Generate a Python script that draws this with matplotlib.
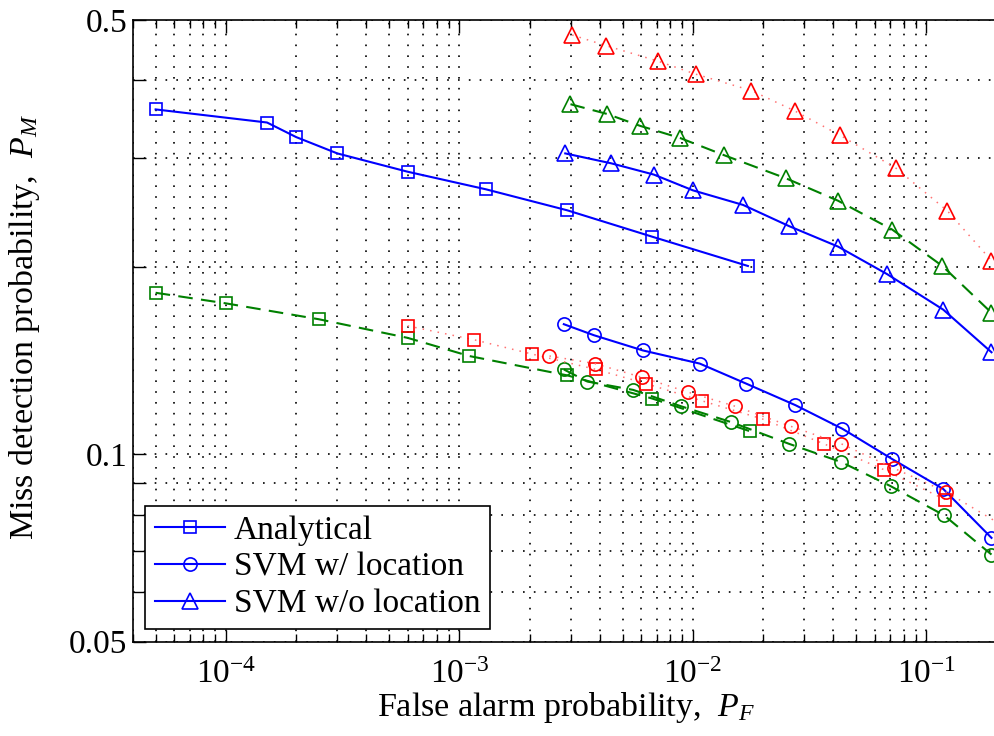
import numpy as np
import matplotlib
matplotlib.use('Agg')
import matplotlib.pyplot as plt
from matplotlib.ticker import FixedLocator, NullFormatter, FixedFormatter

plt.rcParams['font.family'] = ['Liberation Serif', 'DejaVu Serif']
plt.rcParams['mathtext.fontset'] = 'custom'
plt.rcParams['mathtext.rm'] = 'Liberation Serif'
plt.rcParams['mathtext.it'] = 'Liberation Serif:italic'

# analytical curves (squares)
pf_an_blue = [5e-5, 1.5e-4, 2e-4, 3e-4, 6e-4, 1.3e-3, 2.9e-3, 6.7e-3, 1.72e-2]
pm_an_blue = [0.359, 0.342, 0.324, 0.305, 0.285, 0.267, 0.247, 0.224, 0.201]
pf_an_green = [5e-5, 1e-4, 2.5e-4, 6e-4, 1.1e-3, 2.9e-3, 6.7e-3, 1.75e-2]
pm_an_green = [0.182, 0.175, 0.165, 0.154, 0.144, 0.134, 0.123, 0.109]
pf_an_red = [6e-4, 1.15e-3, 2.05e-3, 3.85e-3, 6.3e-3, 1.09e-2, 1.99e-2, 3.64e-2, 6.58e-2, 0.120]
pm_an_red = [0.161, 0.153, 0.145, 0.137, 0.130, 0.122, 0.114, 0.104, 0.0945, 0.0846]

# SVM with location (circles)
pf_loc_blue = [2.8e-3, 3.77e-3, 6.1e-3, 1.07e-2, 1.69e-2, 2.75e-2, 4.36e-2, 7.1e-2, 0.118, 0.19]
pm_loc_blue = [0.162, 0.1555, 0.147, 0.140, 0.130, 0.120, 0.110, 0.0984, 0.088, 0.0734]
pf_loc_green = [2.8e-3, 3.53e-3, 5.55e-3, 8.85e-3, 1.46e-2, 2.58e-2, 4.32e-2, 7.03e-2, 0.119, 0.19]
pm_loc_green = [0.137, 0.131, 0.127, 0.1196, 0.1127, 0.104, 0.0972, 0.0889, 0.0798, 0.069]
pf_loc_red = [2.43e-3, 3.8e-3, 6.07e-3, 9.5e-3, 1.52e-2, 2.62e-2, 4.32e-2, 7.26e-2, 0.1216, 0.21]
pm_loc_red = [0.144, 0.140, 0.133, 0.126, 0.1195, 0.111, 0.104, 0.095, 0.087, 0.077]

# SVM without location (triangles)
pf_noloc_blue = [2.84e-3, 4.47e-3, 6.8e-3, 1.0e-2, 1.64e-2, 2.58e-2, 4.18e-2, 6.79e-2, 0.118, 0.19]
pm_noloc_blue = [0.305, 0.294, 0.282, 0.266, 0.252, 0.233, 0.216, 0.195, 0.171, 0.146]
pf_noloc_green = [2.99e-3, 4.29e-3, 5.91e-3, 8.8e-3, 1.36e-2, 2.51e-2, 4.18e-2, 7.14e-2, 0.117, 0.19]
pm_noloc_green = [0.366, 0.353, 0.338, 0.323, 0.303, 0.278, 0.256, 0.230, 0.201, 0.169]
pf_noloc_red = [3.04e-3, 4.26e-3, 7.06e-3, 1.03e-2, 1.78e-2, 2.73e-2, 4.25e-2, 7.43e-2, 0.123, 0.19]
pm_noloc_red = [0.473, 0.4545, 0.4295, 0.409, 0.385, 0.357, 0.3265, 0.2885, 0.2465, 0.205]

legend_labels = ['Analytical', 'SVM w/ location', 'SVM w/o location']
y_major = [0.05, 0.1, 0.5]
y_major_labels = ['0.05', '0.1', '0.5']
y_minor = [0.06, 0.07, 0.08, 0.09, 0.2, 0.3, 0.4]

blue = (0, 0, 1)
green = (0, 0.5, 0)
red = (1, 0, 0)
red_line = (1, 0.45, 0.45)

fig = plt.figure(figsize=(9.94, 7.36), dpi=100)
ax = fig.add_axes([133 / 994, (736 - 641.5) / 736, 863.7 / 994, 621.5 / 736])
ax.set_xscale('log')
ax.set_yscale('log')

mk = dict(mfc='none', mew=1.2)

# blue: solid
h_an, = ax.plot(pf_an_blue, pm_an_blue, '-', color=blue, lw=1.5, marker='s', ms=8.5, mec=blue, **mk)
h_loc, = ax.plot(pf_loc_blue, pm_loc_blue, '-', color=blue, lw=1.5, marker='o', ms=9.5, mec=blue, **mk)
h_noloc, = ax.plot(pf_noloc_blue, pm_noloc_blue, '-', color=blue, lw=1.5, marker='^', ms=11, mec=blue, **mk)

# green: dashed
for xs, ys, m, s in [(pf_an_green, pm_an_green, 's', 8.5),
                     (pf_loc_green, pm_loc_green, 'o', 9.5),
                     (pf_noloc_green, pm_noloc_green, '^', 11)]:
    ax.plot(xs, ys, color=green, lw=1.5, dashes=(7, 4), marker=m, ms=s, mec=green, **mk)

# red: dotted, markers drawn separately so they stay solid red
for xs, ys, m, s in [(pf_an_red, pm_an_red, 's', 8.5),
                     (pf_loc_red, pm_loc_red, 'o', 9.5),
                     (pf_noloc_red, pm_noloc_red, '^', 11)]:
    ax.plot(xs, ys, color=red_line, lw=1.1, linestyle=(0, (1, 4)))
    ax.plot(xs, ys, linestyle='none', marker=m, ms=s, mec=red, **mk)

ax.set_xlim(4e-5, 0.2)
ax.set_ylim(0.05, 0.5)

ax.yaxis.set_major_locator(FixedLocator(y_major))
ax.yaxis.set_major_formatter(FixedFormatter(y_major_labels))
ax.yaxis.set_minor_locator(FixedLocator(y_minor))
ax.yaxis.set_minor_formatter(NullFormatter())

ax.grid(True, which='both', color='k', linestyle=(0, (1, 5.5)), linewidth=1.2)
ax.set_axisbelow(True)

ax.tick_params(which='both', direction='in', top=True, right=False, width=1.0, labelsize=24)
ax.tick_params(which='major', length=9)
ax.tick_params(axis='y', which='minor', length=9)
ax.tick_params(axis='x', which='minor', length=5.5)
ax.tick_params(axis='y', pad=4)
ax.tick_params(axis='x', pad=13)
for sp in ax.spines.values():
    sp.set_linewidth(1.2)

ax.set_xlabel(r'False alarm probability,  $P_F$', fontsize=24.5)
ax.xaxis.label.set_ha('left')
ax.xaxis.label.set_va('baseline')
ax.xaxis.set_label_coords((377 - 133) / 863.7, (641.5 - 716) / 621.5)

ax.set_ylabel(r'Miss detection probability,  $P_M$', fontsize=24.5)
ax.yaxis.set_label_coords(-(133 - 42) / 863.7, (641.5 - 327) / 621.5)

leg = ax.legend([h_an, h_loc, h_noloc], legend_labels, loc='lower left', fontsize=24,
                frameon=True, fancybox=False, borderaxespad=0.37, borderpad=0.28,
                handlelength=2.1, handletextpad=0.28, labelspacing=0.2)
leg.get_frame().set_edgecolor('k')
leg.get_frame().set_linewidth(1.2)
leg.get_frame().set_alpha(1)

fig.savefig('out.png', dpi=100)
